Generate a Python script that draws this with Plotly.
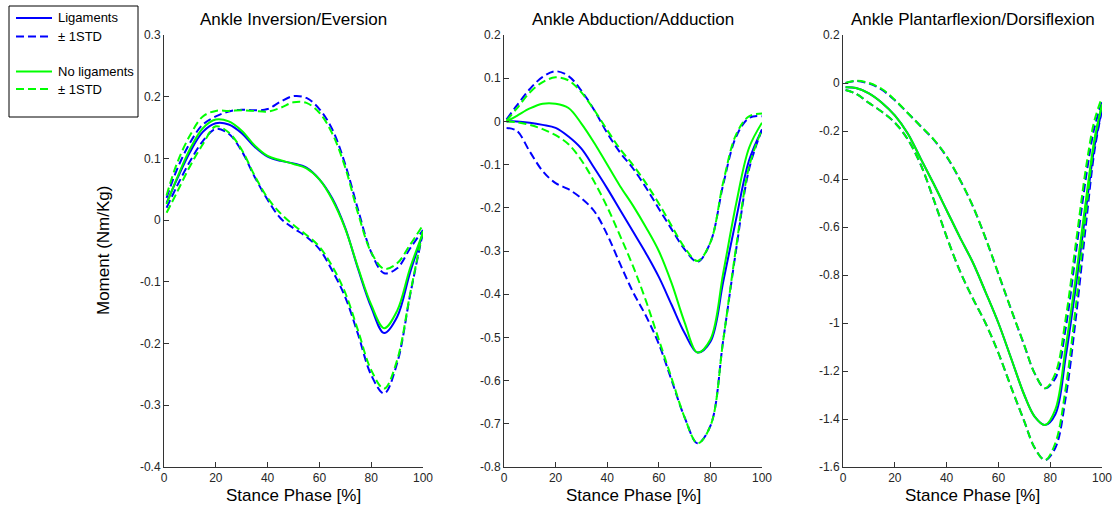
import plotly.graph_objects as go

# ---------------- data ----------------
# Panel 1: Ankle Inversion/Eversion
x_inv = [1, 5, 10, 15, 20, 25, 30, 35, 40, 45, 50, 55, 60, 65, 70, 75, 80, 85, 90, 95, 100]
inv_lig_mean = [0.028, 0.066, 0.110, 0.143, 0.157, 0.155, 0.141, 0.119, 0.103, 0.096, 0.092, 0.085, 0.066, 0.035, -0.013, -0.080, -0.141, -0.183, -0.157, -0.085, -0.022]
inv_lig_up = [0.036, 0.082, 0.125, 0.155, 0.168, 0.176, 0.179, 0.178, 0.180, 0.192, 0.201, 0.198, 0.180, 0.147, 0.090, 0.016, -0.052, -0.086, -0.078, -0.046, -0.016]
inv_lig_lo = [0.020, 0.055, 0.095, 0.128, 0.148, 0.140, 0.112, 0.070, 0.033, 0.003, -0.013, -0.027, -0.047, -0.082, -0.125, -0.186, -0.251, -0.281, -0.232, -0.122, -0.019]
inv_nolig_mean = [0.026, 0.068, 0.115, 0.149, 0.163, 0.160, 0.145, 0.121, 0.104, 0.097, 0.091, 0.084, 0.066, 0.033, -0.014, -0.078, -0.137, -0.175, -0.147, -0.078, -0.020]
inv_nolig_up = [0.040, 0.092, 0.137, 0.168, 0.177, 0.177, 0.178, 0.177, 0.176, 0.182, 0.191, 0.190, 0.174, 0.140, 0.085, 0.010, -0.052, -0.079, -0.070, -0.040, -0.008]
inv_nolig_lo = [0.012, 0.045, 0.087, 0.123, 0.152, 0.142, 0.114, 0.072, 0.036, 0.011, -0.008, -0.024, -0.043, -0.075, -0.118, -0.180, -0.243, -0.273, -0.227, -0.120, -0.016]

# Panel 2: Ankle Abduction/Adduction
x_abd = [1, 5, 10, 15, 20, 25, 30, 35, 40, 45, 50, 55, 60, 65, 70, 75, 80, 85, 90, 95, 100]
abd_lig_mean = [0.0, 0.0, -0.003, -0.008, -0.015, -0.035, -0.063, -0.108, -0.155, -0.205, -0.255, -0.305, -0.36, -0.425, -0.49, -0.535, -0.51, -0.37, -0.225, -0.09, -0.019]
abd_lig_up = [0.005, 0.037, 0.075, 0.103, 0.116, 0.105, 0.071, 0.026, -0.027, -0.072, -0.109, -0.153, -0.202, -0.250, -0.296, -0.325, -0.28, -0.145, -0.035, 0.008, 0.012]
abd_lig_lo = [-0.015, -0.022, -0.07, -0.115, -0.143, -0.157, -0.178, -0.208, -0.262, -0.33, -0.395, -0.45, -0.515, -0.60, -0.685, -0.745, -0.705, -0.505, -0.296, -0.11, -0.019]
abd_nolig_mean = [0.0, 0.013, 0.030, 0.041, 0.041, 0.031, -0.005, -0.05, -0.10, -0.15, -0.195, -0.245, -0.30, -0.375, -0.465, -0.535, -0.505, -0.35, -0.19, -0.061, -0.003]
abd_nolig_up = [0.002, 0.030, 0.067, 0.091, 0.102, 0.095, 0.067, 0.026, -0.020, -0.064, -0.101, -0.143, -0.190, -0.242, -0.292, -0.323, -0.28, -0.14, -0.03, 0.012, 0.018]
abd_nolig_lo = [0.0, -0.002, -0.008, -0.018, -0.032, -0.053, -0.09, -0.14, -0.198, -0.265, -0.335, -0.415, -0.505, -0.595, -0.685, -0.745, -0.705, -0.505, -0.29, -0.105, -0.018]

# Panel 3: Ankle Plantarflexion/Dorsiflexion
x_pf = [1, 5, 10, 15, 20, 25, 30, 35, 40, 45, 50, 55, 60, 65, 70, 74, 78, 82, 86, 90, 94, 97, 100]
pf_lig_mean = [-0.018, -0.021, -0.043, -0.082, -0.135, -0.21, -0.315, -0.42, -0.53, -0.64, -0.745, -0.87, -1.0, -1.15, -1.30, -1.39, -1.425, -1.38, -1.14, -0.84, -0.51, -0.27, -0.11]
pf_lig_up = [0.0, 0.008, -0.002, -0.028, -0.072, -0.125, -0.18, -0.236, -0.307, -0.40, -0.51, -0.645, -0.795, -0.946, -1.093, -1.21, -1.272, -1.23, -1.02, -0.70, -0.38, -0.19, -0.08]
pf_lig_lo = [-0.029, -0.045, -0.083, -0.12, -0.165, -0.235, -0.34, -0.485, -0.64, -0.78, -0.895, -1.0, -1.125, -1.27, -1.41, -1.52, -1.571, -1.52, -1.31, -0.97, -0.57, -0.29, -0.11]
pf_nolig_mean = [-0.018, -0.021, -0.043, -0.082, -0.135, -0.21, -0.315, -0.42, -0.53, -0.64, -0.745, -0.87, -1.0, -1.15, -1.30, -1.39, -1.425, -1.36, -1.10, -0.80, -0.47, -0.24, -0.09]
pf_nolig_up = [0.0, 0.009, 0.0, -0.025, -0.07, -0.125, -0.18, -0.235, -0.305, -0.40, -0.51, -0.645, -0.795, -0.946, -1.093, -1.21, -1.272, -1.21, -0.98, -0.66, -0.34, -0.16, -0.06]
pf_nolig_lo = [-0.029, -0.045, -0.083, -0.12, -0.165, -0.235, -0.34, -0.485, -0.64, -0.78, -0.895, -1.0, -1.125, -1.27, -1.41, -1.52, -1.571, -1.50, -1.27, -0.92, -0.52, -0.25, -0.09]

titles = ["Ankle Inversion/Eversion", "Ankle Abduction/Adduction", "Ankle Plantarflexion/Dorsiflexion"]
x_label = "Stance Phase [%]"
y_label = "Moment (Nm/Kg)"
legend_names = ["Ligaments", "\u00b1 1STD", "No ligaments", "\u00b1 1STD"]

x_ticks = [0, 20, 40, 60, 80, 100]
x_ticktext = ["0", "20", "40", "60", "80", "100"]
y_ticks_1 = [0.3, 0.2, 0.1, 0, -0.1, -0.2, -0.3, -0.4]
y_ticktext_1 = ["0.3", "0.2", "0.1", "0", "-0.1", "-0.2", "-0.3", "-0.4"]
y_ticks_2 = [0.2, 0.1, 0, -0.1, -0.2, -0.3, -0.4, -0.5, -0.6, -0.7, -0.8]
y_ticktext_2 = ["0.2", "0.1", "0", "-0.1", "-0.2", "-0.3", "-0.4", "-0.5", "-0.6", "-0.7", "-0.8"]
y_ticks_3 = [0.2, 0, -0.2, -0.4, -0.6, -0.8, -1.0, -1.2, -1.4, -1.6]
y_ticktext_3 = ["0.2", "0", "-0.2", "-0.4", "-0.6", "-0.8", "-1", "-1.2", "-1.4", "-1.6"]

# ---------------- figure ----------------
BLUE = "#0000ff"
GREEN = "#00ff00"
FONT = "Liberation Sans, Arial, Helvetica, sans-serif"
DASH = "8px,4px"
LW = 2

W, H = 1114, 510
ML, MR, MT, MB = 164, 12, 35, 43
PW = W - ML - MR
PH = H - MT - MB


def px_x(px):
    return (px - ML) / PW


def px_y(py):
    return (H - MB - py) / PH


domains = [
    [px_x(164), px_x(423)],
    [px_x(504), px_x(762)],
    [px_x(843), px_x(1102)],
]

panels = [
    (x_inv, inv_lig_mean, inv_lig_up, inv_lig_lo, inv_nolig_mean, inv_nolig_up, inv_nolig_lo),
    (x_abd, abd_lig_mean, abd_lig_up, abd_lig_lo, abd_nolig_mean, abd_nolig_up, abd_nolig_lo),
    (x_pf, pf_lig_mean, pf_lig_up, pf_lig_lo, pf_nolig_mean, pf_nolig_up, pf_nolig_lo),
]

fig = go.Figure()

for i, (xs, lm, lu, ll, nm, nu, nl) in enumerate(panels):
    xa = "x" if i == 0 else f"x{i+1}"
    ya = "y" if i == 0 else f"y{i+1}"
    specs = [
        (lm, BLUE, "solid", legend_names[0]),
        (lu, BLUE, DASH, legend_names[1]),
        (ll, BLUE, DASH, legend_names[1]),
        (nm, GREEN, "solid", legend_names[2]),
        (nu, GREEN, DASH, legend_names[3]),
        (nl, GREEN, DASH, legend_names[3]),
    ]
    for ys, col, dash, name in specs:
        fig.add_trace(go.Scatter(
            x=xs, y=ys, mode="lines", name=name, showlegend=False,
            xaxis=xa, yaxis=ya,
            line=dict(color=col, width=LW, dash=dash, shape="spline", smoothing=1.0),
        ))

axis_common = dict(
    showline=True, linecolor="#333333", linewidth=1, ticks="inside", ticklen=5,
    tickcolor="#333333", tickwidth=1, showgrid=False, zeroline=False, mirror=False,
    tickfont=dict(family=FONT, size=12, color="#262626"),
)

y_specs = [
    ([-0.4, 0.3], y_ticks_1, y_ticktext_1),
    ([-0.8, 0.2], y_ticks_2, y_ticktext_2),
    ([-1.6, 0.2], y_ticks_3, y_ticktext_3),
]

layout = dict(
    width=W, height=H, autosize=False,
    margin=dict(l=ML, r=MR, t=MT, b=MB, pad=0, autoexpand=False),
    paper_bgcolor="white", plot_bgcolor="white",
    font=dict(family=FONT, color="black"),
    showlegend=False,
)

for i in range(3):
    xk = "xaxis" if i == 0 else f"xaxis{i+1}"
    yk = "yaxis" if i == 0 else f"yaxis{i+1}"
    anchor_x = "y" if i == 0 else f"y{i+1}"
    anchor_y = "x" if i == 0 else f"x{i+1}"
    layout[xk] = dict(axis_common, domain=domains[i], range=[0, 100], anchor=anchor_x,
                      tickmode="array", tickvals=x_ticks, ticktext=x_ticktext)
    rng, tv, tt = y_specs[i]
    layout[yk] = dict(axis_common, domain=[0, 1], range=rng, anchor=anchor_y,
                      tickmode="array", tickvals=tv, ticktext=tt)

fig.update_layout(**layout)

annotations = []
for i in range(3):
    cx = (domains[i][0] + domains[i][1]) / 2
    annotations.append(dict(
        text=titles[i], x=cx, y=px_y(20), xref="paper", yref="paper",
        xanchor="center", yanchor="middle", showarrow=False,
        font=dict(family=FONT, size=17, color="black"),
    ))
    annotations.append(dict(
        text=x_label, x=cx, y=px_y(495), xref="paper", yref="paper",
        xanchor="center", yanchor="middle", showarrow=False,
        font=dict(family=FONT, size=17, color="black"),
    ))
annotations.append(dict(
    text=y_label, x=px_x(103), y=px_y(251), xref="paper", yref="paper",
    xanchor="center", yanchor="middle", showarrow=False, textangle=-90,
    font=dict(family=FONT, size=17, color="black"),
))

# ---------------- legend (drawn as a boxed key in the left margin) ----------------
legend_colors = [BLUE, BLUE, GREEN, GREEN]
legend_dashes = ["solid", DASH, "solid", DASH]
legend_rows_px = [18, 36.5, 71.5, 89]
LEG_BOX = (9, 6, 138, 117)
LEG_LINE = (16, 52)
LEG_TEXT_X = 56

shapes = [dict(
    type="rect", xref="paper", yref="paper",
    x0=px_x(LEG_BOX[0]), x1=px_x(LEG_BOX[2]), y0=px_y(LEG_BOX[3]), y1=px_y(LEG_BOX[1]),
    line=dict(color="black", width=1), fillcolor="white", layer="above",
)]
for name, col, dash, ry in zip(legend_names, legend_colors, legend_dashes, legend_rows_px):
    shapes.append(dict(
        type="line", xref="paper", yref="paper",
        x0=px_x(LEG_LINE[0]), x1=px_x(LEG_LINE[1]), y0=px_y(ry), y1=px_y(ry),
        line=dict(color=col, width=LW, dash=dash), layer="above",
    ))
    annotations.append(dict(
        text=name, x=px_x(LEG_TEXT_X), y=px_y(ry), xref="paper", yref="paper",
        xanchor="left", yanchor="middle", showarrow=False,
        font=dict(family=FONT, size=13, color="black"),
    ))

fig.update_layout(annotations=annotations, shapes=shapes)

fig.write_html("out.html")
